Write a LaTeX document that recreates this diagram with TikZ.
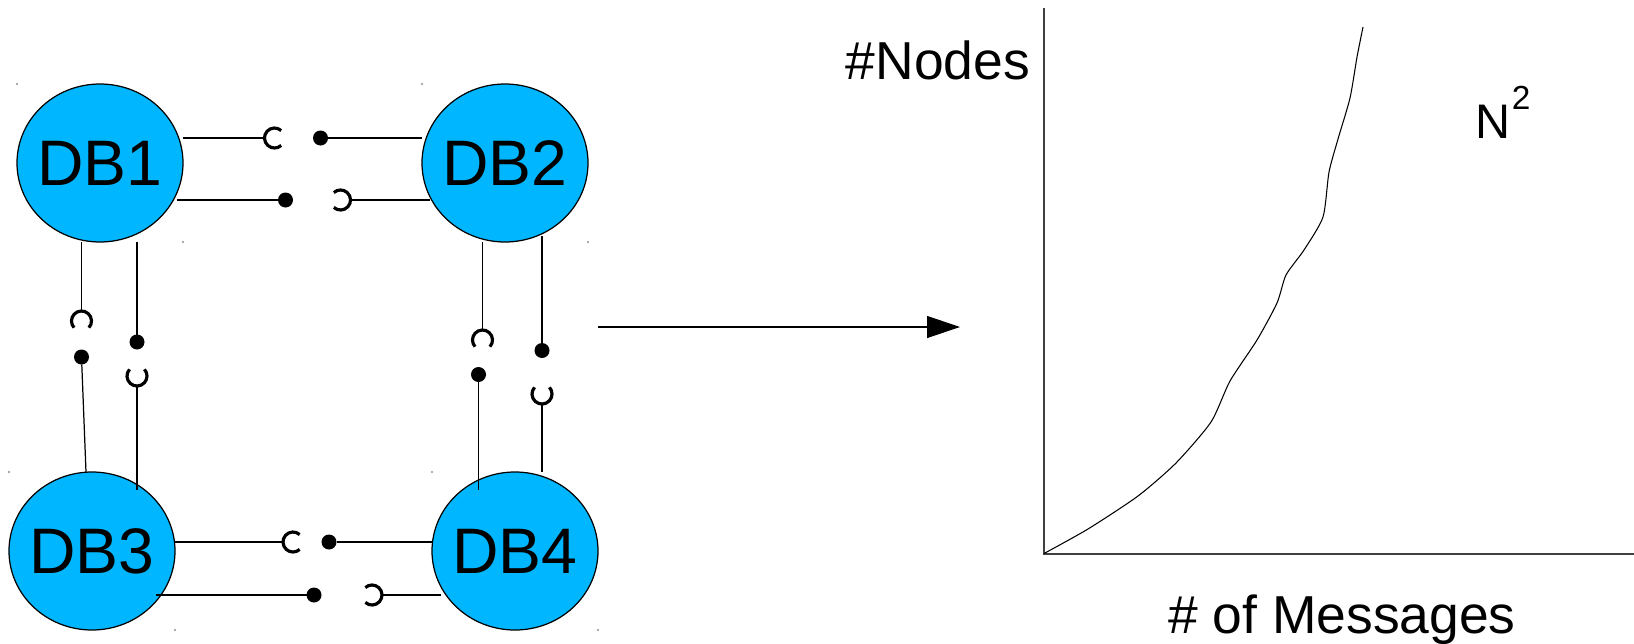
\documentclass[tikz,border=0pt]{standalone}
\usepackage{fontspec}
\setmainfont{Liberation Sans}
\usepackage{tikz}
\usetikzlibrary{calc,shapes.geometric,arrows.meta}
\definecolor{dbblue}{RGB}{0,183,255}

\begin{document}
\begin{tikzpicture}[every node/.style={outer sep=0pt},line width=0.35pt]
\tikzstyle{db}=[ellipse,draw,fill=dbblue,inner sep=-0.3cm,minimum width=1.66cm,minimum height=1.58cm,font=\fontsize{18.3}{20}\selectfont]
\tikzstyle{ball}=[circle,fill,inner sep=0pt,minimum size=0.15cm]
\tikzstyle{cup}=[circle,inner sep=0pt,minimum size=0.2cm]
\tikzstyle{label}=[anchor=base,font=\fontsize{15.2}{18}\selectfont]

\useasboundingbox (0,0) rectangle (16.34,6.43);

\node (DB1) at (1.00,4.80) [db] {DB1};
\node (DB2) at (DB1) [db,xshift=4.05cm] {DB2};
\node (DB3) at (DB1) [db,xshift=-0.08cm,yshift=-3.88cm] {DB3};
\node (DB4) at (DB3) [db,xshift=4.23cm] {DB4};

% handles left over on the corners
\foreach \n in {DB1,DB2,DB3,DB4} {
  \fill[black!45] (\n.north -| \n.west) circle (0.35pt);
  \fill[black!45] (\n.south -| \n.east) circle (0.35pt);
}

% DB1 -- DB2
\node (c12) at ($(DB1)+(1.745,0.25)$) [cup] {};
\node (b21) at ($(DB1)+(2.205,0.25)$) [ball] {};
\node (b12) at ($(DB1)+(1.855,-0.37)$) [ball] {};
\node (c21) at ($(DB1)+(2.405,-0.37)$) [cup] {};
\draw (DB1.east |- c12) -- (c12.west);
\draw (b21) -- (DB2.west |- b21);
\draw ($(DB1.east |- b12)+(-0.06,0)$) -- (b12);
\draw (c21.east) -- ($(DB2.west |- c21)+(0.08,0)$);

% DB1 -- DB3
\node (c13) at ($(DB1)+(-0.185,-1.58)$) [cup] {};
\node (b31) at ($(DB1)+(-0.185,-1.94)$) [ball] {};
\node (b13) at ($(DB1)+(0.37,-1.79)$) [ball] {};
\node (c31) at ($(DB1)+(0.37,-2.13)$) [cup] {};
\draw (DB1.south -| c13) -- (c13.north);
\draw (b31) -- ($(DB3.north)+(-0.06,0)$);
\draw (DB1.south -| b13) -- (b13);
\draw (c31.south) -- ($(DB3.north -| c31)+(0,-0.18)$);

% DB2 -- DB4
\node (c24) at ($(DB2)+(-0.225,-1.77)$) [cup] {};
\node (b42) at ($(DB2)+(-0.265,-2.115)$) [ball] {};
\node (b24) at ($(DB2)+(0.37,-1.875)$) [ball] {};
\node (c42) at ($(DB2)+(0.37,-2.31)$) [cup] {};
\draw (DB2.south -| c24) -- (c24.north);
\draw (b42) -- ($(DB4.north -| b42)+(0,-0.18)$);
\draw ($(DB2.south -| b24)+(0,0.06)$) -- (b24);
\draw (c42.south) -- (DB4.north -| c42);

% DB3 -- DB4
\node (c34) at ($(DB3)+(2.01,0.09)$) [cup] {};
\node (b43) at ($(DB3)+(2.37,0.09)$) [ball] {};
\node (b34) at ($(DB3)+(2.22,-0.44)$) [ball] {};
\node (c43) at ($(DB3)+(2.80,-0.44)$) [cup] {};
\draw (DB3.east |- c34) -- (c34.west);
\draw (b43) -- (DB4.west |- b43);
\draw ($(DB3.east |- b34)+(-0.19,0)$) -- (b34);
\draw (c43.east) -- ($(DB4.west |- c43)+(0.09,0)$);

% the sockets, open towards their ball
\foreach \c/\a in {c12/0,c21/180,c13/-90,c31/90,c24/-90,c42/90,c34/0,c43/180}
  \draw[line width=0.9pt] ($(\c)+(\a+48:0.1)$) arc[start angle=\a+48,delta angle=264,radius=0.1cm];

\coordinate (from) at (5.98,3.16);
\coordinate (to) at (9.60,3.16);
\draw[-{Triangle[length=3.3mm,width=2.2mm]}] (from) -- (to);

% graph
\coordinate (O) at (10.44,0.89);
\coordinate (ytop) at (10.44,6.35);
\coordinate (xend) at (16.34,0.89);
\draw[black!75,line width=0.45pt] (ytop) -- (O) -- (xend);
\draw[line width=0.3pt] plot[smooth,tension=0.4] coordinates {(10.44,0.895) (10.88,1.14) (11.38,1.47) (11.76,1.80) (12.11,2.21) (12.30,2.62) (12.57,3.03) (12.77,3.40) (12.86,3.68) (13.04,3.93) (13.23,4.26) (13.29,4.71) (13.38,5.04) (13.50,5.45) (13.57,5.86) (13.63,6.16)};

\node (ylab) at (9.38,5.64) [label] {\#Nodes};
\node (xlab) at (13.42,0.10) [label] {\# of Messages};
\node (nsq) at (15.03,5.05) [anchor=base,font=\fontsize{13.8}{16}\selectfont] {N\kern0.3pt\raisebox{8pt}{\fontsize{9.5}{10}\selectfont 2}};

\end{tikzpicture}
\end{document}
